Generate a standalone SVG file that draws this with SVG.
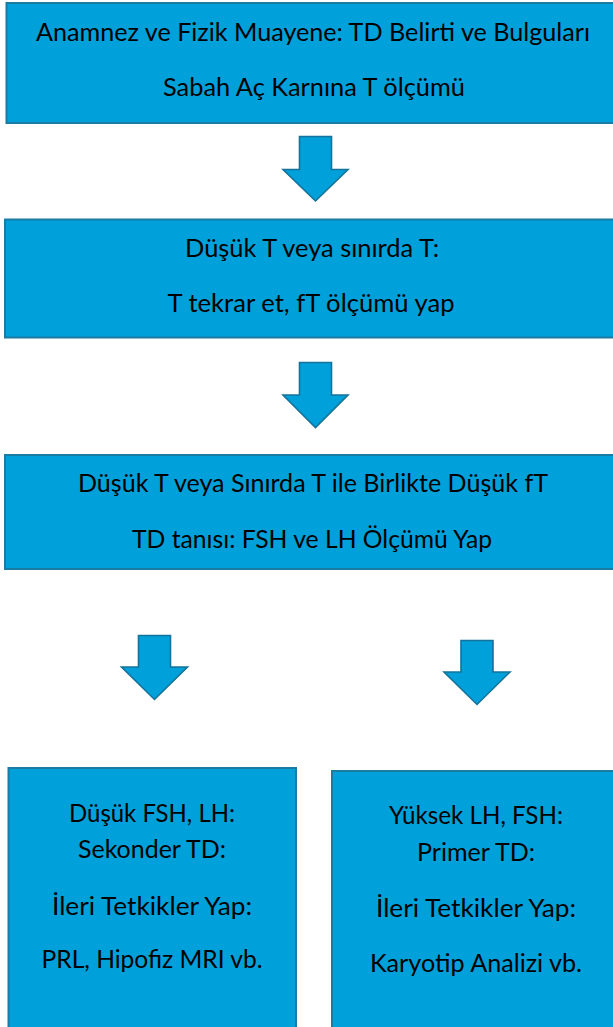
<svg xmlns="http://www.w3.org/2000/svg" width="613" height="1027" viewBox="0 0 613 1027">
  <style>
    .box { fill: #00A0DA; stroke: #1A7BA3; stroke-width: 2; }
    .arrow { fill: #00A0DA; stroke: #13739A; stroke-width: 1.6; stroke-linejoin: miter; }
    .t { font-family: Lato, "Liberation Sans", Arial, sans-serif; font-size: 24.5px; fill: #000; text-anchor: middle; }
  </style>
  <rect width="613" height="1027" fill="#FFFFFF"/>

  <g id="node-anamnez">
    <rect class="box" x="6.5" y="3" width="615" height="120"/>
    <text class="t" x="313" y="41" textLength="554" lengthAdjust="spacingAndGlyphs">Anamnez ve Fizik Muayene: TD Belirti ve Bulguları</text>
    <text class="t" x="314" y="96" textLength="302" lengthAdjust="spacingAndGlyphs">Sabah Aç Karnına T ölçümü</text>
  </g>

  <g id="node-tekrar">
    <rect class="box" x="5" y="219.5" width="615" height="118"/>
    <text class="t" x="312" y="257" textLength="254" lengthAdjust="spacingAndGlyphs">Düşük T veya sınırda T:</text>
    <text class="t" x="311" y="312" textLength="287" lengthAdjust="spacingAndGlyphs">T tekrar et, fT ölçümü yap</text>
  </g>

  <g id="node-tani">
    <rect class="box" x="5" y="455" width="615" height="114"/>
    <text class="t" x="313" y="492" textLength="470" lengthAdjust="spacingAndGlyphs">Düşük T veya Sınırda T ile Birlikte Düşük fT</text>
    <text class="t" x="312" y="548" textLength="360" lengthAdjust="spacingAndGlyphs">TD tanısı: FSH ve LH Ölçümü Yap</text>
  </g>

  <g id="node-sekonder">
    <rect class="box" x="8.5" y="768" width="287.5" height="265"/>
    <text class="t" x="152" y="822" textLength="166" lengthAdjust="spacingAndGlyphs">Düşük FSH, LH:</text>
    <text class="t" x="152" y="858" textLength="148" lengthAdjust="spacingAndGlyphs">Sekonder TD:</text>
    <text class="t" x="152" y="915" textLength="200" lengthAdjust="spacingAndGlyphs">İleri Tetkikler Yap:</text>
    <text class="t" x="152" y="968" textLength="221" lengthAdjust="spacingAndGlyphs">PRL, Hipofiz MRI vb.</text>
  </g>

  <g id="node-primer">
    <rect class="box" x="332" y="771" width="288" height="262"/>
    <text class="t" x="476" y="824" textLength="174" lengthAdjust="spacingAndGlyphs">Yüksek LH, FSH:</text>
    <text class="t" x="476" y="861" textLength="118" lengthAdjust="spacingAndGlyphs">Primer TD:</text>
    <text class="t" x="476" y="917" textLength="200" lengthAdjust="spacingAndGlyphs">İleri Tetkikler Yap:</text>
    <text class="t" x="476" y="972" textLength="212" lengthAdjust="spacingAndGlyphs">Karyotip Analizi vb.</text>
  </g>

  <g id="connectors">
    <polygon class="arrow" points="299.5,136.5 331.5,136.5 331.5,169.5 348,169.5 315.5,201 283,169.5 299.5,169.5"/>
    <polygon class="arrow" points="299.5,362.5 331.5,362.5 331.5,395 348,395 315.5,427.5 283,395 299.5,395"/>
    <polygon class="arrow" points="138.5,635.5 170.5,635.5 170.5,667 187.5,667 154.5,699.5 121.5,667 138.5,667"/>
    <polygon class="arrow" points="461,640.5 493,640.5 493,672 510,672 477,704.5 444,672 461,672"/>
  </g>
</svg>
